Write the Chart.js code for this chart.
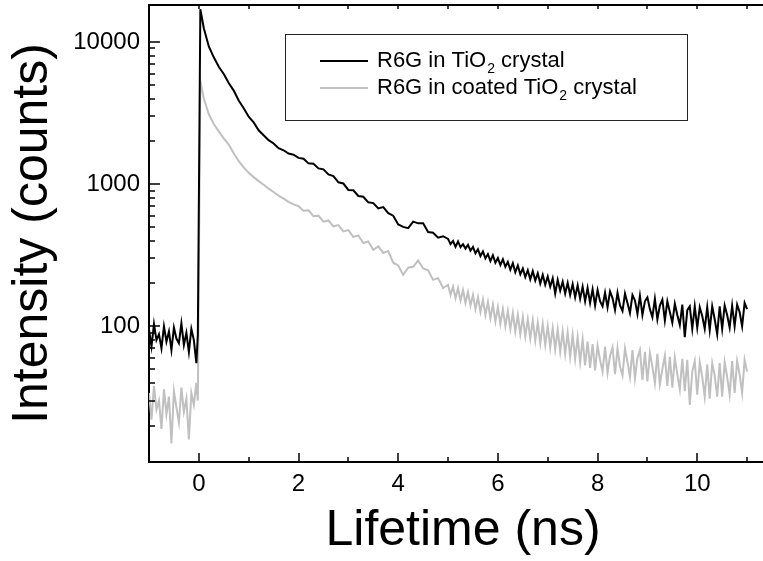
<!DOCTYPE html>
<html>
<head>
<meta charset="utf-8">
<script src="https://cdn.jsdelivr.net/npm/chart.js@4.4.1/dist/chart.umd.min.js"></script>
<style>
  html, body { margin: 0; padding: 0; background: #fff; overflow: hidden; }
  #wrap { width: 790px; height: 561px; }
</style>
</head>
<body>
<div id="wrap"><canvas id="c" width="790" height="561"></canvas></div>
<script>
// time axis (ns), shared by both decays
const timeNs = [
  -1.0, -0.95, -0.9, -0.85, -0.8, -0.75, -0.7, -0.65, -0.6, -0.55,
  -0.5, -0.45, -0.4, -0.35, -0.3, -0.25, -0.2, -0.15, -0.1, -0.05,
  -0.02, 0.03,
  0.1, 0.2, 0.3, 0.4, 0.5, 0.6, 0.7, 0.8, 0.9, 1.0,
  1.1, 1.2, 1.3, 1.4, 1.5, 1.6, 1.7, 1.8, 1.9,
  2.0, 2.1, 2.2, 2.3, 2.4, 2.5, 2.6, 2.7, 2.8, 2.9,
  3.0, 3.1, 3.2, 3.3, 3.4, 3.5, 3.6, 3.7, 3.8, 3.9,
  4.0, 4.1, 4.2, 4.3, 4.4, 4.5, 4.6, 4.7, 4.8, 4.9,
  5.0, 5.05, 5.1, 5.15, 5.2, 5.25, 5.3, 5.35, 5.4, 5.45,
  5.5, 5.55, 5.6, 5.65, 5.7, 5.75, 5.8, 5.85, 5.9, 5.95,
  6.0, 6.05, 6.1, 6.15, 6.2, 6.25, 6.3, 6.35, 6.4, 6.45,
  6.5, 6.55, 6.6, 6.65, 6.7, 6.75, 6.8, 6.85, 6.9, 6.95,
  7.0, 7.05, 7.1, 7.15, 7.2, 7.25, 7.3, 7.35, 7.4, 7.45,
  7.5, 7.55, 7.6, 7.65, 7.7, 7.75, 7.8, 7.85, 7.9, 7.95,
  8.0, 8.05, 8.1, 8.15, 8.2, 8.25, 8.3, 8.35, 8.4, 8.45,
  8.5, 8.55, 8.6, 8.65, 8.7, 8.75, 8.8, 8.85, 8.9, 8.95,
  9.0, 9.05, 9.1, 9.15, 9.2, 9.25, 9.3, 9.35, 9.4, 9.45,
  9.5, 9.55, 9.6, 9.65, 9.7, 9.75, 9.8, 9.85, 9.9, 9.95,
  10.0, 10.05, 10.1, 10.15, 10.2, 10.25, 10.3, 10.35, 10.4, 10.45,
  10.5, 10.55, 10.6, 10.65, 10.7, 10.75, 10.8, 10.85, 10.9, 10.95,
  11.0
];

// R6G in TiO2 crystal (counts)
const inCrystal = [
  95, 72, 104, 80, 88, 70, 100, 78, 92, 68,
  98, 82, 76, 105, 74, 90, 66, 96, 80, 55,
  88, 17000,
  12500, 9300, 7800, 6700, 5950, 5150, 4550, 3880, 3420, 2980,
  2720, 2390, 2210, 2040, 1930, 1790, 1730, 1640, 1610,
  1530, 1510, 1400, 1390, 1290, 1270, 1170, 1140, 1030, 1010,
  910, 905, 825, 815, 745, 735, 675, 690, 625, 600,
  520, 500, 490, 545, 530, 530, 460, 455, 420, 430,
  412, 378, 398, 362, 395, 360, 378, 352, 374, 340,
  362, 326, 348, 312, 336, 300, 322, 288, 316, 280,
  302, 270, 296, 262, 284, 250, 278, 240, 268, 232,
  255, 222, 248, 214, 244, 210, 236, 200, 230, 196,
  224, 190, 218, 170, 212, 178, 206, 170, 202, 166,
  198, 160, 194, 156, 190, 150, 186, 146, 182, 140,
  180, 150, 138, 172, 136, 176, 158, 130, 172, 140,
  128, 170, 146, 124, 166, 152, 122, 164, 120, 150,
  160, 132, 116, 156, 112, 140, 154, 110, 150, 126,
  106, 144, 120, 102, 142, 84, 130, 138, 96, 138,
  98, 136, 118, 96, 136, 94, 138, 112, 88, 138,
  96, 140, 120, 98, 140, 100, 142, 126, 100, 146,
  132
];

// R6G in coated TiO2 crystal (counts)
const inCoated = [
  34, 22, 38, 26, 30, 19, 36, 24, 32, 15,
  35, 27, 21, 37, 25, 31, 16, 34, 28, 40,
  30, 5300,
  4000, 3100, 2650, 2350, 2100, 1900, 1650, 1450, 1310, 1200,
  1120, 1050, 990, 930, 880, 830, 790, 750, 720,
  700, 650, 655, 595, 600, 545, 555, 505, 515, 465,
  475, 425, 435, 385, 395, 345, 365, 328, 338, 280,
  268, 230, 258, 262, 290, 255, 248, 212, 218, 186,
  196, 166, 190, 158, 186, 152, 180, 146, 174, 140,
  166, 132, 160, 126, 154, 120, 148, 114, 142, 108,
  136, 104, 132, 100, 128, 96, 124, 92, 120, 88,
  116, 85, 112, 82, 110, 79, 106, 76, 104, 74,
  100, 71, 97, 69, 95, 66, 92, 64, 90, 61,
  87, 59, 84, 56, 81, 53, 78, 51, 75, 49,
  73, 58, 48, 72, 47, 62, 71, 46, 70, 52,
  45, 70, 56, 44, 68, 43, 60, 68, 42, 66,
  41, 65, 52, 40, 64, 39, 50, 62, 38, 61,
  37, 60, 46, 36, 59, 35, 58, 28, 48, 57,
  33, 56, 44, 32, 54, 31, 55, 45, 32, 55,
  32, 56, 44, 33, 57, 34, 57, 46, 34, 58,
  48
];

const xTickValues = [0, 2, 4, 6, 8, 10];
const yTickValues = [100, 1000, 10000];
// legend text pieces: [before subscript, subscript, after]
const legendLabels = [
  ['R6G in TiO', '2', ' crystal'],
  ['R6G in coated TiO', '2', ' crystal']
];
const seriesColors = ['#000000', '#c0c0c0'];

const FONT = '"Liberation Sans", Arial, Helvetica, sans-serif';
Chart.defaults.font.family = FONT;
Chart.defaults.color = '#000';

const toPoints = (ys) => timeNs.map((t, i) => ({ x: t, y: ys[i] }));

// inward ticks, top frame line and the boxed legend
const frameAndLegend = {
  id: 'frameAndLegend',
  afterDraw(chart) {
    const ctx = chart.ctx;
    const { left, right, top, bottom } = chart.chartArea;
    const xs = chart.scales.x;
    const ys = chart.scales.y;
    ctx.save();
    ctx.strokeStyle = '#000';
    ctx.lineWidth = 2;
    ctx.beginPath();
    ctx.moveTo(left - 1, top);
    ctx.lineTo(right, top);
    ctx.stroke();

    ctx.lineWidth = 1.5;
    ctx.beginPath();
    for (let v = -1; v <= 11; v++) {
      const px = Math.round(xs.getPixelForValue(v));
      if (px <= left + 1 || px > right) continue;
      const len = v % 2 === 0 ? 9 : 5;
      ctx.moveTo(px, bottom);
      ctx.lineTo(px, bottom - len);
      ctx.moveTo(px, top);
      ctx.lineTo(px, top + 4);
    }
    [10, 100, 1000, 10000].forEach(d => {
      for (let m = 1; m <= 9; m++) {
        const v = m * d;
        if (v < ys.min || v > ys.max) continue;
        const py = Math.round(ys.getPixelForValue(v));
        ctx.moveTo(left, py);
        ctx.lineTo(left + (m === 1 ? 11 : 6), py);
      }
    });
    ctx.stroke();

    // legend
    const bx = 285, by = 34, bw = 402, bh = 86;
    ctx.fillStyle = '#fff';
    ctx.fillRect(bx, by, bw, bh);
    ctx.lineWidth = 1;
    ctx.strokeStyle = '#222';
    ctx.strokeRect(bx + 0.5, by + 0.5, bw, bh);
    const rowY = [61, 88];
    legendLabels.forEach((parts, i) => {
      const y = rowY[i];
      ctx.strokeStyle = seriesColors[i];
      ctx.lineWidth = 2;
      ctx.beginPath();
      ctx.moveTo(320, y);
      ctx.lineTo(368, y);
      ctx.stroke();
      ctx.fillStyle = '#000';
      ctx.textBaseline = 'middle';
      ctx.font = '22px ' + FONT;
      let tx = 377;
      ctx.fillText(parts[0], tx, y);
      tx += ctx.measureText(parts[0]).width + 1;
      ctx.font = '14px ' + FONT;
      ctx.fillText(parts[1], tx, y + 8);
      tx += ctx.measureText(parts[1]).width;
      ctx.font = '22px ' + FONT;
      ctx.fillText(parts[2], tx, y);
    });
    ctx.restore();
  }
};

new Chart(document.getElementById('c'), {
  type: 'line',
  data: {
    datasets: [
      {
        label: 'R6G in TiO2 crystal',
        data: toPoints(inCrystal),
        borderColor: seriesColors[0],
        borderWidth: 2,
        pointRadius: 0,
        tension: 0,
        order: 1
      },
      {
        label: 'R6G in coated TiO2 crystal',
        data: toPoints(inCoated),
        borderColor: seriesColors[1],
        borderWidth: 2,
        pointRadius: 0,
        tension: 0,
        order: 2
      }
    ]
  },
  options: {
    responsive: false,
    animation: false,
    devicePixelRatio: 1,
    layout: { padding: { top: 5, right: 13, left: 0, bottom: 0 } },
    plugins: { legend: { display: false }, tooltip: { enabled: false } },
    scales: {
      x: {
        type: 'linear',
        min: -1,
        max: 11.6,
        grid: { display: false, drawTicks: false },
        border: { display: true, color: '#000', width: 2 },
        ticks: { font: { size: 24 }, color: '#000', padding: 8 },
        afterBuildTicks: (s) => { s.ticks = xTickValues.map(v => ({ value: v })); },
        afterFit: (s) => {
          s.height = 99;
          s.paddingLeft = 0;
          s.paddingRight = 0;
        },
        title: {
          display: true,
          text: 'Lifetime (ns)',
          color: '#000',
          font: { size: 50 },
          padding: { top: 0, bottom: 0 }
        }
      },
      y: {
        type: 'logarithmic',
        min: 11.1,
        max: 18200,
        grid: { display: false, drawTicks: false },
        border: { display: true, color: '#000', width: 2 },
        ticks: {
          font: { size: 24 },
          color: '#000',
          padding: 9,
          callback: (v) => String(v)
        },
        afterBuildTicks: (s) => { s.ticks = yTickValues.map(v => ({ value: v })); },
        afterFit: (s) => {
          s.width = 149;
          s.paddingTop = 0;
          s.paddingBottom = 0;
        },
        title: {
          display: true,
          text: 'Intensity (counts)',
          color: '#000',
          font: { size: 50 },
          padding: { top: 3, bottom: 0 }
        }
      }
    }
  },
  plugins: [frameAndLegend]
});
</script>
</body>
</html>
